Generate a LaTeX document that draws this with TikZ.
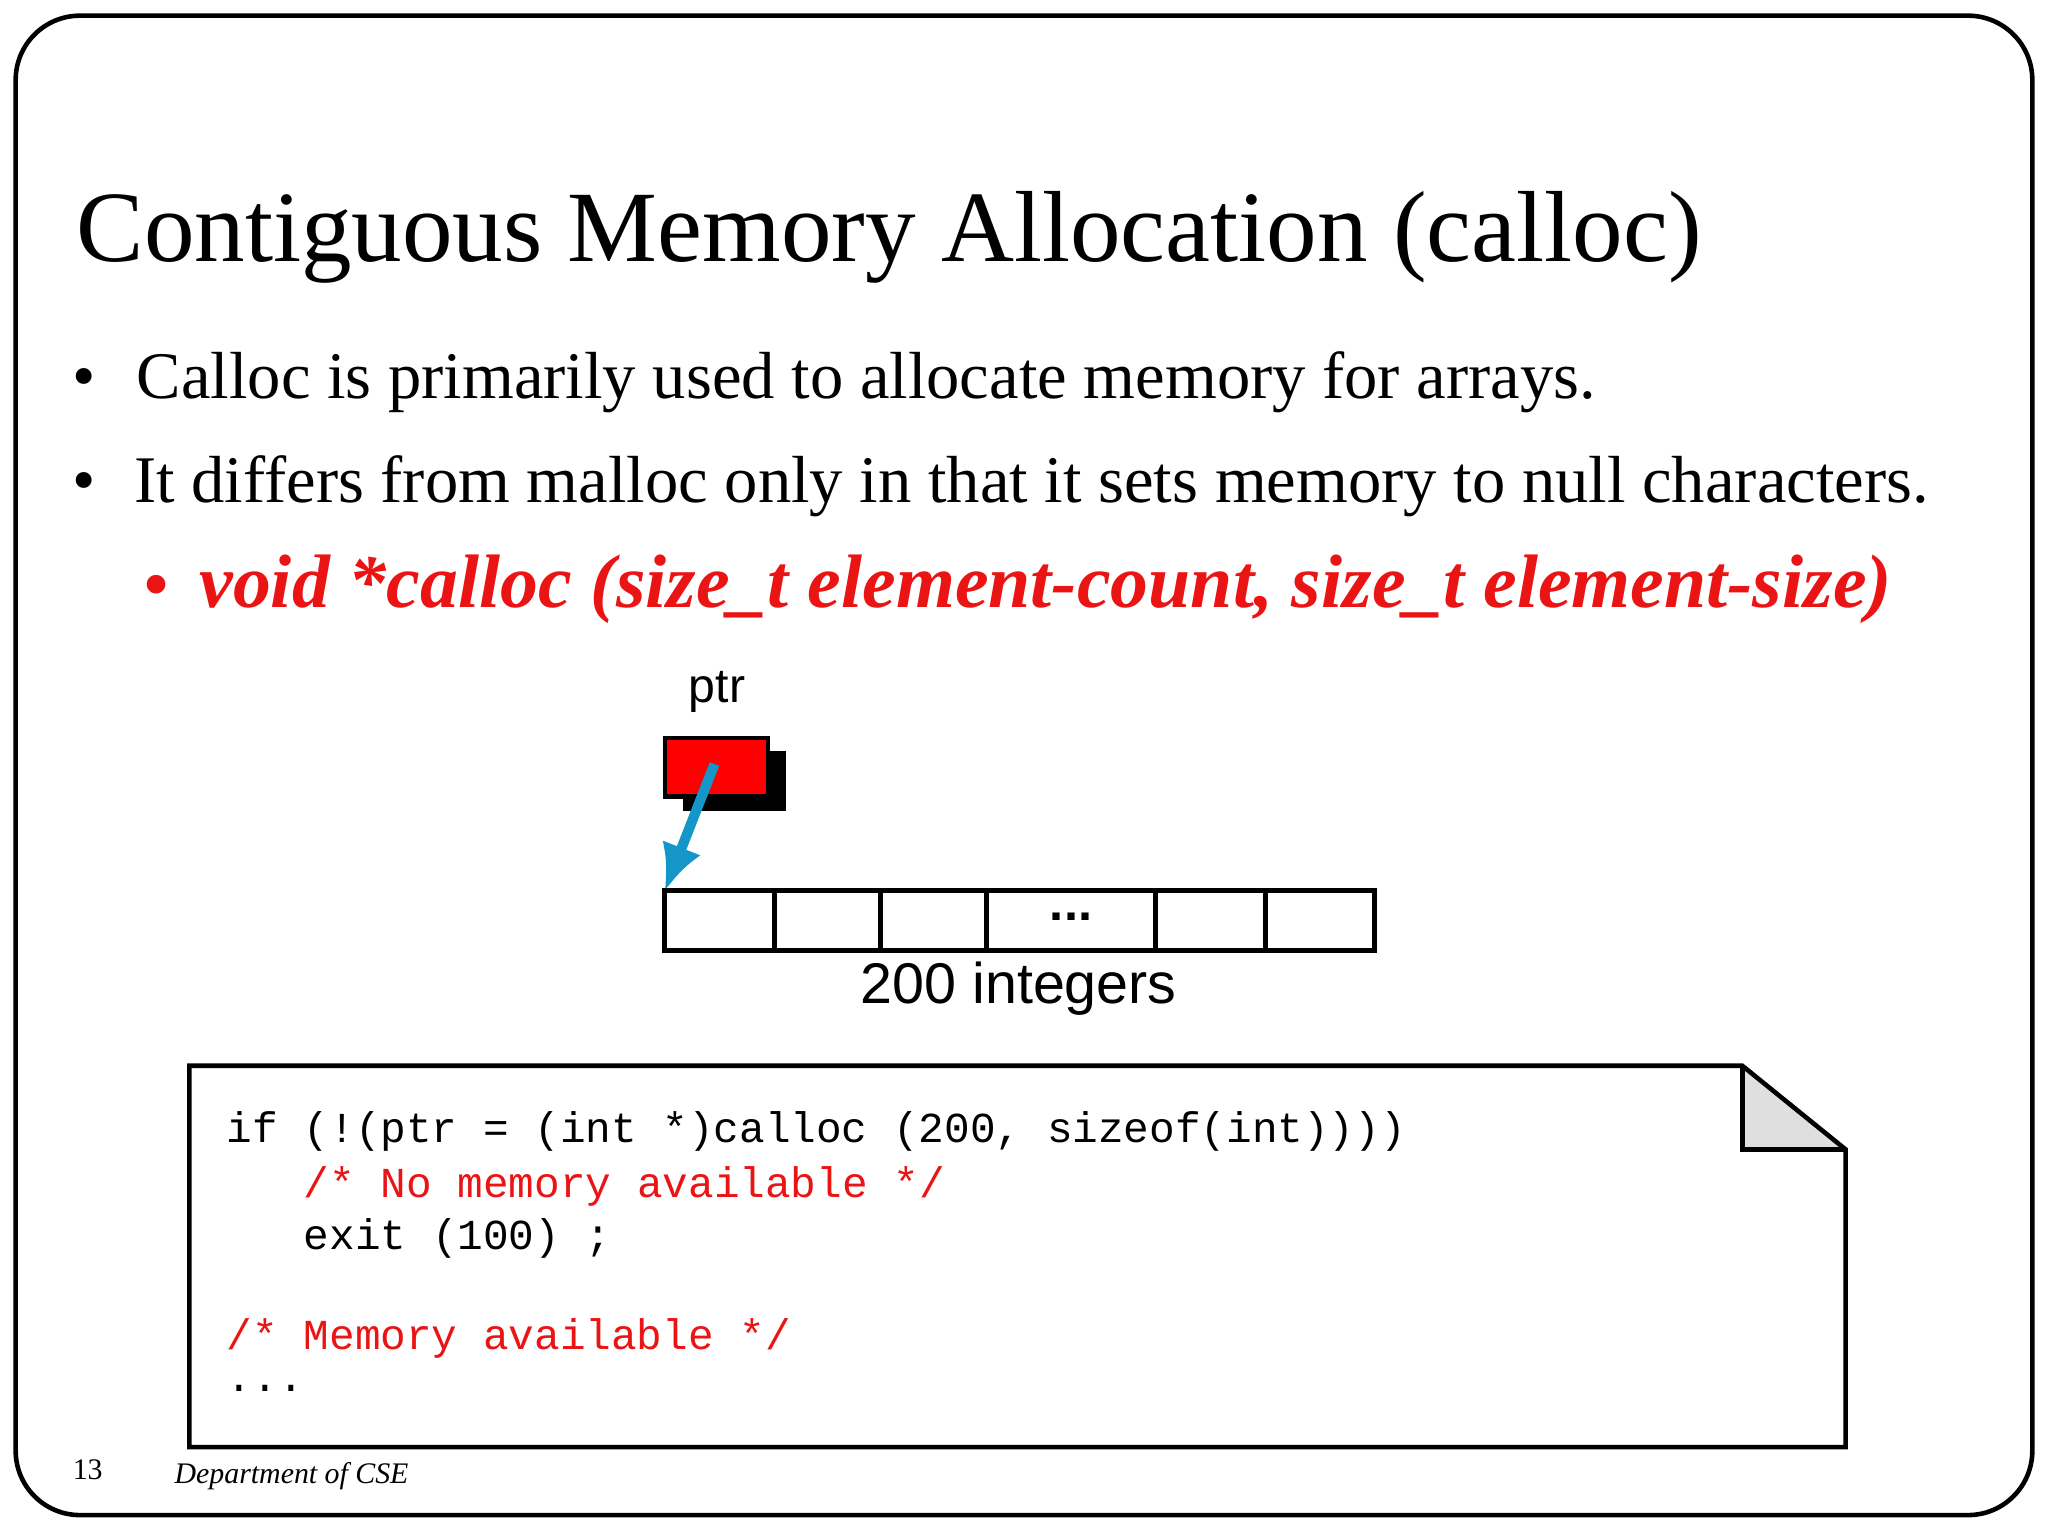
\documentclass[tikz,border=0pt]{standalone}
\usepackage{fontspec}
\usetikzlibrary{arrows.meta}
\setmainfont{Liberation Serif}
\setsansfont{Liberation Sans}
\setmonofont{Liberation Mono}
\definecolor{slred}{RGB}{235,20,20}
\definecolor{arrowc}{RGB}{20,150,200}
\begin{document}
\begin{tikzpicture}[x=0.01cm,y=-0.01cm,
  txt/.style={anchor=base west,inner sep=0pt},
  code/.style={anchor=base west,inner sep=0pt,font=\ttfamily\fontsize{9.3}{11}\selectfont},
  cell/.style={draw,line width=1.1pt}]
\useasboundingbox (0,0) rectangle (1568,1176);
\draw[line width=1pt,rounded corners=14pt] (12,12) rectangle (1556,1160);
\node[txt,font=\fontsize{22}{26}\selectfont] (title) at (58,200) {Contiguous Memory Allocation (calloc)};
\node[txt,font=\fontsize{14.5}{17}\selectfont] (b1d) at (55,305) {•};
\node[txt,font=\fontsize{14.5}{17}\selectfont] (b1) at (104,305) {Calloc is primarily used to allocate memory for arrays.};
\node[txt,font=\fontsize{14.5}{17}\selectfont] (b2d) at (55,385) {•};
\node[txt,font=\fontsize{14.5}{17}\selectfont] (b2) at (102,385) {It differs from malloc only in that it sets memory to null characters.};
\node[txt,font=\fontsize{15}{17}\selectfont\bfseries,text=slred] (b3d) at (110,465) {•};
\node[txt,font=\fontsize{16.5}{19}\selectfont\bfseries\itshape,text=slred] (b3) at (152,465) {void *calloc (size\_t element-count, size\_t element-size)};
\node[font=\sffamily\fontsize{10.5}{12}\selectfont] (ptrl) at (549,530) {ptr};
\fill (523,575) rectangle (602,621);
\draw[fill=red,line width=1pt] (509,565) rectangle (588,610);
\coordinate (ps) at (547,585);
\coordinate (c0) at (509,682);
\draw[arrowc,line width=2.2pt,-{Latex[length=10pt,width=9pt]}] (ps) -- (c0);
\foreach \a/\b in {509/593,593/674,674/755,755/885,885/969,969/1052}
  \draw[cell] (\a,682) rectangle (\b,728);
\node[font=\sffamily\fontsize{11}{12}\selectfont\bfseries] (dots) at (820,702) {...};
\node[font=\sffamily\fontsize{12.5}{14}\selectfont] (lab) at (780,757) {200 integers};
\fill[gray!25] (1334,816) -- (1334,880) -- (1413,880) -- cycle;
\draw[line width=1pt] (1334,816) -- (1334,880) -- (1413,880);
\draw[line width=1pt] (145,816) -- (1334,816) -- (1413,880) -- (1413,1108) -- (145,1108) -- cycle;
\node[code] (l1) at (173,875) {if (!(ptr = (int *)calloc (200, sizeof(int))))};
\node[code,text=slred] (l2) at (232,917) {/* No memory available */};
\node[code] (l3) at (232,957) {exit (100) ;};
\node[code,text=slred] (l4) at (173,1033) {/* Memory available */};
\node[code] (l5) at (173,1065) {...};
\node[txt,font=\fontsize{6.5}{8}\selectfont] (pg) at (55,1133) {13};
\node[txt,font=\fontsize{6.5}{8}\selectfont\itshape] (dep) at (133,1136) {Department of CSE};
\end{tikzpicture}
\end{document}
